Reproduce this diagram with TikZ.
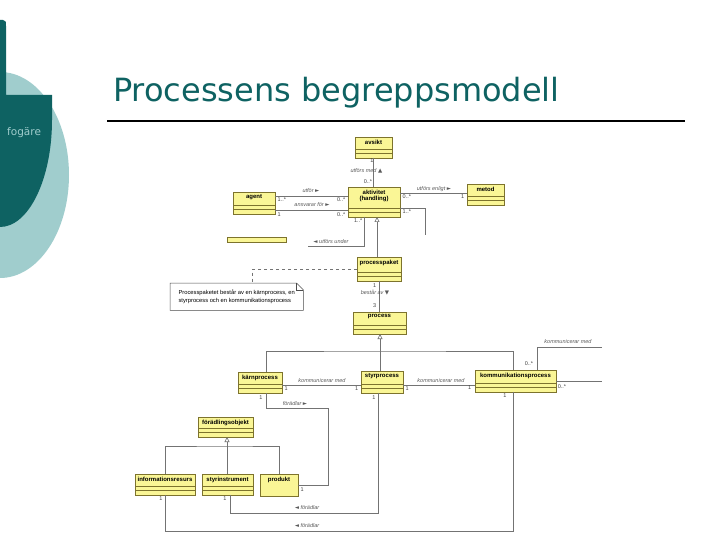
\documentclass[tikz,border=0pt]{standalone}
\usepackage{fontspec}
\setmainfont{Liberation Sans}
\newfontfamily\titlefont{DejaVu Sans}
\newfontfamily\symfont{DejaVu Sans}
\usetikzlibrary{arrows.meta}

\definecolor{darkteal}{RGB}{14,98,98}
\definecolor{lightteal}{RGB}{160,205,205}
\definecolor{boxfill}{RGB}{250,246,150}
\definecolor{boxdraw}{RGB}{125,115,45}
\definecolor{linegrey}{RGB}{115,115,115}

\def\compsep{4.5pt}
\newcommand\classbox[6]{%
    % #1: Node name
    % #2: Left x
    % #3: Top y
    % #4: Width
    % #5: Height
    % #6: Class name
    \node[classbox,minimum width=#4pt,minimum height=#5pt,anchor=north west] (#1) at (#2,#3) {};
    \node[classname,anchor=north] (#1-name) at (#1.north) {#6};
    \draw[compline] ([yshift=\compsep]#1.south west) -- ([yshift=\compsep]#1.south east);
    \draw[compline] ([yshift=2*\compsep]#1.south west) -- ([yshift=2*\compsep]#1.south east);
}

\begin{document}
\begin{tikzpicture}[
        x=1pt,y=-1pt,
        classbox/.style={draw=boxdraw,fill=boxfill,line width=0.6pt,inner sep=0pt,outer sep=0pt},
        classname/.style={font=\fontsize{6}{6.5}\selectfont\bfseries,inner sep=2.5pt,align=center},
        compline/.style={draw=boxdraw,line width=0.5pt},
        assoc/.style={draw=linegrey,line width=0.6pt},
        gen/.style={assoc,-{Triangle[open,length=5pt,width=5pt]}},
        mult/.style={font=\fontsize{5.5}{6}\selectfont,text=black!75,inner sep=0.5pt},
        role/.style={font=\fontsize{5.5}{6}\selectfont\itshape,text=black!65,inner sep=0.5pt},
        notebox/.style={font=\fontsize{5.8}{8}\selectfont,align=left,inner sep=0pt,
            minimum width=133pt,minimum height=27pt,anchor=north west},
    ]
    \useasboundingbox (0,0) rectangle (720,540);

    % title
    \node[font=\titlefont\fontsize{32}{34}\selectfont,text=darkteal,anchor=base west,inner sep=0pt]
        (title) at (113,102) {Processens begreppsmodell};
    \draw[line width=2pt] (107,121) -- (685,121);

    % slide decoration
    \fill[lightteal] (0,175) ellipse [x radius=69,y radius=103];
    \fill[darkteal] (0,20) -- (3,20) .. controls (6,21) .. (6,26) -- (6,95) -- (52,95) -- (52,120)
        arc[start angle=0,end angle=90,x radius=52,y radius=107] -- cycle;
    \node[font=\titlefont\fontsize{10.5}{11}\selectfont,text=lightteal,anchor=base west,inner sep=0pt]
        (side) at (7,136) {fogäre};

    % classes
    \classbox{avsikt}{355}{137}{37}{21}{avsikt}
    \classbox{aktivitet}{348}{187}{52}{30}{aktivitet\\(handling)}
    \classbox{agent}{233}{192}{42}{22}{agent}
    \classbox{metod}{467}{184}{37}{21}{metod}
    \classbox{processpaket}{357}{257}{44}{24}{processpaket}
    \classbox{process}{353}{312}{53}{22}{process}
    \classbox{karnprocess}{238}{372}{44}{21}{kärnprocess}
    \classbox{styrprocess}{361}{371}{42}{22}{styrprocess}
    \classbox{kommprocess}{475}{370}{81}{22}{kommunikationsprocess}
    \classbox{forobjekt}{198}{417}{55}{20}{förädlingsobjekt}
    \classbox{inforesurs}{135}{474}{60}{21}{informationsresurs}
    \classbox{styrinstr}{202}{474}{51}{21}{styrinstrument}
    \node[classbox,minimum width=38pt,minimum height=22pt,anchor=north west] (produkt) at (260,474) {};
    \node[classname,anchor=north] (produkt-name) at (produkt.north) {produkt};
    \draw[classbox] (227,237) rectangle (286,242);

    % note
    \node[notebox] (note) at (170,283) {Processpaketet består av en kärnprocess, en\\styrprocess och en kommunikationsprocess};
    \draw[draw=black!70,line width=0.5pt] (note.north west) -- ([xshift=-7pt]note.north east)
        -- ([yshift=-7pt]note.north east) -- (note.south east) -- (note.south west) -- cycle;
    \draw[draw=black!70,line width=0.4pt] ([xshift=-7pt]note.north east) |- ([yshift=-7pt]note.north east);
    \draw[assoc,dashed] (processpaket.west) -| ([xshift=16pt]note.north);

    % associations round aktivitet
    \draw[assoc] (avsikt.south) -- (avsikt.south |- aktivitet.north);
    \node[mult] (m1) at (372,161) {1};
    \node[mult] (m2) at (368,182) {0..*};
    \node[role,anchor=east] (r1) at (383,171) {utförs med {\symfont ▲}};

    \draw[assoc] ([yshift=-4pt]agent.north east) -- ([yshift=-4pt]agent.north east -| aktivitet.west);
    \node[mult,anchor=west] (m3) at (277,200) {1..*};
    \node[mult,anchor=east] (m4) at (346,200) {0..*};
    \node[role] (r2) at (311,191) {utför {\symfont ►}};
    \draw[assoc] ([yshift=4pt]agent.south east) -- ([yshift=4pt]agent.south east -| aktivitet.west);
    \node[mult,anchor=west] (m5) at (277,215) {1};
    \node[mult,anchor=east] (m6) at (346,215) {0..*};
    \node[role] (r3) at (312,205) {ansvarar för {\symfont ►}};

    \draw[assoc] ([yshift=-6pt]aktivitet.north east) -- ([yshift=-6pt]aktivitet.north east -| metod.west);
    \node[mult,anchor=west] (m7) at (402,197) {0..*};
    \node[mult,anchor=east] (m8) at (465,197) {1};
    \node[role] (r4) at (434,189) {utförs enligt {\symfont ►}};

    \coordinate (cutA) at (425,235);
    \draw[assoc] ([yshift=9pt]aktivitet.south east) -| (cutA);
    \node[mult,anchor=west] (m9) at (402,212) {1..*};

    \coordinate (cutB) at (308,246);
    \draw[assoc] ([xshift=-10pt]aktivitet.south) |- (cutB);
    \node[mult,anchor=east] (m10) at (363,221) {1..*};
    \node[role] (r5) at (331,242) {{\symfont ◄} utförs under};

    \draw[gen] ([xshift=-2pt]processpaket.north) -- ([xshift=-2pt]processpaket.north |- aktivitet.south);

    % processpaket and process
    \draw[assoc] (processpaket.south) -- (processpaket.south |- process.north);
    \node[mult,anchor=east] (m11) at (377,286) {1};
    \node[mult,anchor=east] (m12) at (377,306) {3};
    \node[role] (r6) at (375,293) {består av {\symfont ▼}};

    \coordinate (genjoin) at (380,351);
    \draw[assoc] ([xshift=6pt]karnprocess.north) |- (genjoin) -| ([xshift=-2.5pt]kommprocess.north);
    \draw[gen] ([xshift=-2pt]styrprocess.north) -- ([xshift=-2pt]styrprocess.north |- process.south);

    \draw[assoc] ([yshift=8pt]karnprocess.south east) -- ([yshift=8pt]karnprocess.south east -| styrprocess.west);
    \node[mult,anchor=west] (m13) at (284,389) {1};
    \node[mult,anchor=east] (m14) at (359,389) {1};
    \node[role] (r7) at (322,381) {kommunicerar med};
    \draw[assoc] ([yshift=8pt]styrprocess.south east) -- ([yshift=8pt]styrprocess.south east -| kommprocess.west);
    \node[mult,anchor=west] (m15) at (405,389) {1};
    \node[mult,anchor=east] (m16) at (472,388) {1};
    \node[role] (r8) at (441,381) {kommunicerar med};

    \coordinate (selfA) at (602,347);
    \coordinate (selfB) at (602,381);
    \draw[assoc] ([xshift=22pt]kommprocess.north) |- (selfA);
    \draw[assoc] (kommprocess.east) -- (kommprocess.east -| selfB);
    \node[role] (r9) at (568,342) {kommunicerar med};
    \node[mult] (m17) at (529,364) {0..*};
    \node[mult] (m18) at (562,387) {0..*};

    % förädlingsobjekt
    \coordinate (objjoin) at (227,446);
    \draw[assoc] (inforesurs.north) |- (objjoin) -| (produkt.north);
    \draw[gen] ([xshift=-0.5pt]styrinstr.north) -- ([xshift=-0.5pt]styrinstr.north |- forobjekt.south);

    \coordinate (fradj) at (328,408);
    \draw[assoc] ([xshift=6pt]karnprocess.south) |- (fradj) |- (produkt.east);
    \node[mult] (m19) at (261,398) {1};
    \node[role] (r10) at (295,404) {förädlar {\symfont ►}};
    \node[mult,anchor=west] (m20) at (300,490) {1};

    \coordinate (styrbend) at (378,513);
    \draw[assoc] ([xshift=2.5pt]styrinstr.south) |- (styrbend) -- (styrbend |- styrprocess.south);
    \node[mult] (m21) at (225,499) {1};
    \node[mult] (m22) at (374,398) {1};
    \node[role] (r11) at (307,508) {{\symfont ◄} förädlar};

    \coordinate (infobend) at (513,531);
    \draw[assoc] (inforesurs.south) |- (infobend) -- (infobend |- kommprocess.south);
    \node[mult] (m23) at (161,499) {1};
    \node[mult] (m24) at (505,396) {1};
    \node[role] (r12) at (307,526) {{\symfont ◄} förädlar};

\end{tikzpicture}
\end{document}
